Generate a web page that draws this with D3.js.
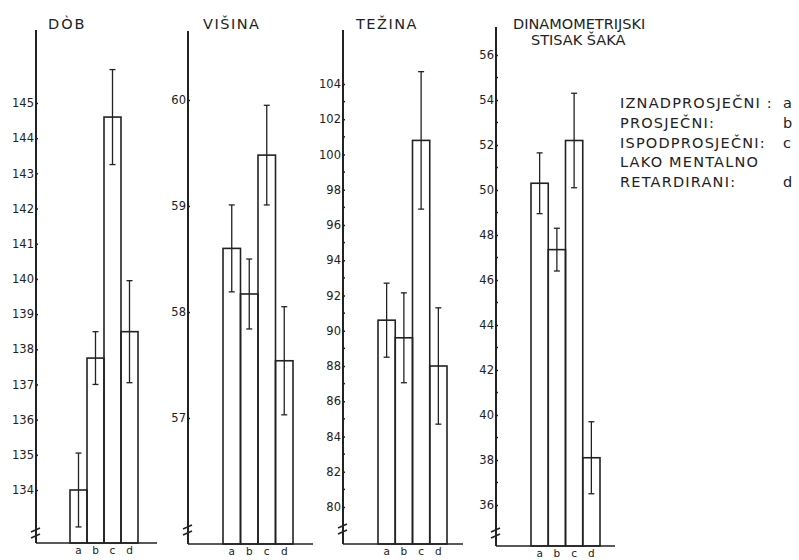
<!DOCTYPE html>
<html>
<head>
<meta charset="utf-8">
<script src="https://cdn.jsdelivr.net/npm/d3@7"></script>
<style>
  body { margin: 0; background: #fff; }
  svg text { font-family: "DejaVu Sans", sans-serif; fill: #222; }
</style>
</head>
<body>
<div id="chart"></div>
<script>
// groups a..d (see legend)
var categories = ["a", "b", "c", "d"];

// DOB
var dobMeans = [134.0, 137.75, 144.6, 138.5];
var dobErr = [1.05, 0.75, 1.35, 1.45];
var dobTicks = [134, 135, 136, 137, 138, 139, 140, 141, 142, 143, 144, 145];

// VISINA
var visMeans = [58.6, 58.17, 59.48, 57.54];
var visErr = [0.41, 0.33, 0.47, 0.51];
var visTicks = [57, 58, 59, 60];

// TEZINA
var tezMeans = [90.6, 89.6, 100.8, 88.0];
var tezErr = [2.1, 2.55, 3.9, 3.3];
var tezTicks = [80, 82, 84, 86, 88, 90, 92, 94, 96, 98, 100, 102, 104];
var tezMinor = [81, 83, 85, 87, 89, 91, 93, 95, 97, 99, 101, 103];

// DINAMOMETRIJSKI STISAK SAKA
var dinMeans = [50.3, 47.35, 52.2, 38.1];
var dinErr = [1.35, 0.95, 2.1, 1.6];
var dinTicks = [36, 38, 40, 42, 44, 46, 48, 50, 52, 54, 56];
var dinMinor = [37, 39, 41, 43, 45, 47, 49, 51, 53, 55];

var legendLines = [
    {label: "IZNADPROSJEČNI :", key: "a"},
    {label: "PROSJEČNI:", key: "b"},
    {label: "ISPODPROSJEČNI:", key: "c"},
    {label: "LAKO MENTALNO", key: ""},
    {label: "RETARDIRANI:", key: "d"}
];

var width = 799, height = 560;

var svg = d3.select("#chart").append("svg")
    .attr("width", width)
    .attr("height", height);

// layout for each panel (pixels), data come from the arrays above
var panels = [
    {title: ["DÒB"], titleX: 48, spacing: 2, means: dobMeans, err: dobErr, ticks: dobTicks, minor: [],
     axisX: 36, top: 30, bottom: 543, right: 157, bars: [70, 138],
     dom: [134, 145], rng: [490, 103], brk: 530},
    {title: ["VIŠINA"], titleX: 203, spacing: 1.5, means: visMeans, err: visErr, ticks: visTicks, minor: [],
     axisX: 188, top: 31, bottom: 544, right: 313, bars: [223, 293],
     dom: [57, 60], rng: [418, 100], brk: 527},
    {title: ["TEŽINA"], titleX: 356, spacing: 1.5, means: tezMeans, err: tezErr, ticks: tezTicks, minor: tezMinor,
     axisX: 343, top: 30, bottom: 544, right: 463, bars: [378, 447],
     dom: [80, 104], rng: [507, 84], brk: 526},
    {title: ["DINAMOMETRIJSKI", "STISAK ŠAKA"], titleX: 513, spacing: 0, means: dinMeans, err: dinErr, ticks: dinTicks, minor: dinMinor,
     axisX: 496, top: 27, bottom: 546, right: 615, bars: [531, 600],
     dom: [36, 54], rng: [505, 100], brk: 530}
];

panels.forEach(function(p) {
    var g = svg.append("g");

    var y = d3.scaleLinear().domain(p.dom).range(p.rng);
    var x = d3.scaleBand().domain(categories).range(p.bars).padding(0);

    // title
    p.title.forEach(function(t, i) {
        g.append("text")
            .attr("x", p.titleX + (i === 1 ? 18 : 0))
            .attr("y", 29 + i * 16)
            .attr("font-size", 14.5)
            .attr("letter-spacing", p.spacing)
            .attr("fill", "#444")
            .text(t);
    });

    // vertical axis line
    g.append("line")
        .attr("x1", p.axisX).attr("x2", p.axisX)
        .attr("y1", p.top).attr("y2", p.bottom)
        .attr("stroke", "#222").attr("stroke-width", 2);

    // break marks
    [0, 6].forEach(function(o) {
        g.append("line")
            .attr("x1", p.axisX - 5).attr("x2", p.axisX + 4)
            .attr("y1", p.brk + o + 2).attr("y2", p.brk + o - 2)
            .attr("stroke", "#222").attr("stroke-width", 1.6);
    });

    // baseline
    g.append("line")
        .attr("x1", p.axisX).attr("x2", p.right)
        .attr("y1", p.bottom).attr("y2", p.bottom)
        .attr("stroke", "#222").attr("stroke-width", 1.6);

    // y axis ticks + labels
    var axis = d3.axisLeft(y).tickValues(p.ticks).tickFormat(d3.format("d"))
        .tickSize(3).tickPadding(1);
    var ag = g.append("g")
        .attr("transform", "translate(" + (p.axisX + 2) + ",0)")
        .call(axis);
    ag.select(".domain").remove();
    ag.selectAll(".tick line").attr("stroke", "#222").attr("stroke-width", 1.5);
    ag.selectAll(".tick text")
        .attr("font-family", "DejaVu Sans, sans-serif")
        .attr("font-size", 11.5)
        .attr("fill", "#222");

    g.selectAll(".minor")
        .data(p.minor)
        .enter().append("line")
        .attr("x1", p.axisX - 1).attr("x2", p.axisX + 2)
        .attr("y1", function(d) { return y(d); })
        .attr("y2", function(d) { return y(d); })
        .attr("stroke", "#222").attr("stroke-width", 1.5);

    // bars
    g.selectAll(".bar")
        .data(p.means)
        .enter().append("rect")
        .attr("class", "bar")
        .attr("x", function(d, i) { return x(categories[i]); })
        .attr("y", function(d) { return y(d); })
        .attr("width", x.bandwidth())
        .attr("height", function(d) { return p.bottom - y(d); })
        .attr("fill", "none")
        .attr("stroke", "#222").attr("stroke-width", 1.6);

    // error bars
    var cx = function(i) { return x(categories[i]) + x.bandwidth() / 2; };
    p.means.forEach(function(m, i) {
        var e = p.err[i];
        g.append("line")
            .attr("x1", cx(i)).attr("x2", cx(i))
            .attr("y1", y(m + e)).attr("y2", y(m - e))
            .attr("stroke", "#222").attr("stroke-width", 1.3);
        [m + e, m - e].forEach(function(v) {
            g.append("line")
                .attr("x1", cx(i) - 3).attr("x2", cx(i) + 3)
                .attr("y1", y(v)).attr("y2", y(v))
                .attr("stroke", "#222").attr("stroke-width", 1.3);
        });
    });

    // category labels
    g.selectAll(".cat")
        .data(categories)
        .enter().append("text")
        .attr("x", function(d) { return x(d) + x.bandwidth() / 2; })
        .attr("y", p.bottom + 11)
        .attr("text-anchor", "middle")
        .attr("font-size", 10.5)
        .text(function(d) { return d; });
});

// legend
var leg = svg.append("g").attr("transform", "translate(620,108)");
legendLines.forEach(function(l, i) {
    leg.append("text")
        .attr("x", 0).attr("y", i * 19.8)
        .attr("font-size", 14.5)
        .attr("letter-spacing", 1.2)
        .attr("fill", "#444")
        .text(l.label);
    leg.append("text")
        .attr("x", 163).attr("y", i * 19.8)
        .attr("font-size", 14.5)
        .attr("fill", "#444")
        .text(l.key);
});
</script>
</body>
</html>
